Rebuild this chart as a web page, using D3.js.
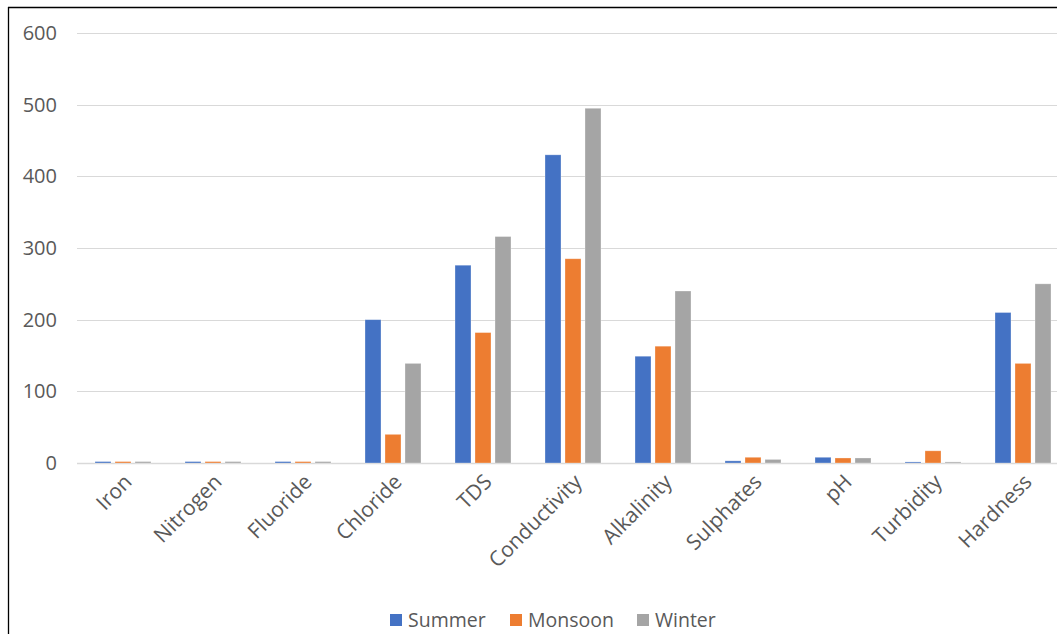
<!DOCTYPE html>
<html>
<head>
<meta charset="utf-8">
<script src="https://cdn.jsdelivr.net/npm/d3@7"></script>
<style>
  body { margin: 0; background: #fff; }
  svg { display: block; font-family: "Open Sans", "DejaVu Sans", sans-serif; }
</style>
</head>
<body>
<div id="chart"></div>
<script>
const categories = ["Iron", "Nitrogen", "Fluoride", "Chloride", "TDS", "Conductivity",
    "Alkalinity", "Sulphates", "pH", "Turbidity", "Hardness"];
const seriesNames = ["Summer", "Monsoon", "Winter"];
const summer  = [2, 2, 2, 200, 276, 430, 149, 3, 8, 1.5, 210];
const monsoon = [2, 2, 2, 40, 182, 285, 163, 8, 7, 17, 139];
const winter  = [2, 2, 2, 139, 316, 495, 240, 5, 7, 1.5, 250];
const yTicks = [0, 100, 200, 300, 400, 500, 600];
const colors = ["#4472C4", "#ED7D31", "#A5A5A5"];

const width = 1057, height = 634;
const values = [summer, monsoon, winter];

const svg = d3.select("#chart").append("svg")
    .attr("width", width)
    .attr("height", height);

// frame (only top and left edges are inside the shot)
svg.append("line").attr("x1", 8).attr("x2", width).attr("y1", 7.5).attr("y2", 7.5)
    .attr("stroke", "#000").attr("stroke-width", 1.3);
svg.append("line").attr("x1", 8.5).attr("x2", 8.5).attr("y1", 7).attr("y2", height)
    .attr("stroke", "#000").attr("stroke-width", 1.3);

const x = d3.scaleBand()
    .domain(categories)
    .range([78, 1068])
    .paddingInner(0)
    .paddingOuter(0);

const x1 = d3.scaleBand()
    .domain(seriesNames)
    .range([17, x.bandwidth() - 17])
    .paddingInner(0.2);

const y = d3.scaleLinear()
    .domain([0, 600])
    .range([463, 33]);

// gridlines
svg.append("g").selectAll("line")
    .data(yTicks)
    .enter().append("line")
    .attr("x1", 77)
    .attr("x2", width)
    .attr("y1", d => Math.round(y(d)) + 0.5)
    .attr("y2", d => Math.round(y(d)) + 0.5)
    .attr("stroke", "#D9D9D9")
    .attr("stroke-width", d => d === 0 ? 1.5 : 1);

// y labels
svg.append("g").selectAll("text")
    .data(yTicks)
    .enter().append("text")
    .attr("x", 57)
    .attr("y", d => y(d))
    .attr("dy", "0.35em")
    .attr("text-anchor", "end")
    .attr("font-size", 20)
    .attr("fill", "#595959")
    .text(d => d);

// bars
const groups = svg.append("g").selectAll("g")
    .data(categories)
    .enter().append("g")
    .attr("transform", d => `translate(${x(d)},0)`);

groups.selectAll("rect")
    .data((d, i) => seriesNames.map((s, j) => ({ s: s, v: values[j][i], c: colors[j] })))
    .enter().append("rect")
    .attr("x", d => x1(d.s))
    .attr("y", d => y(d.v))
    .attr("width", x1.bandwidth())
    .attr("height", d => y(0) - y(d.v))
    .attr("fill", d => d.c)
    .attr("stroke", "#fff")
    .attr("stroke-opacity", 0.4)
    .attr("stroke-width", 0.75);

// x labels
svg.append("g").selectAll("text")
    .data(categories)
    .enter().append("text")
    .attr("transform", d => `translate(${x(d) + x.bandwidth() / 2 + 5},${478}) rotate(-45)`)
    .attr("text-anchor", "end")
    .attr("dy", "0.35em")
    .attr("font-size", 21)
    .attr("fill", "#595959")
    .text(d => d);

// legend
const legendX = [390, 510, 637];
const legend = svg.append("g").selectAll("g")
    .data(seriesNames)
    .enter().append("g")
    .attr("transform", (d, i) => `translate(${legendX[i]},614)`);

legend.append("rect")
    .attr("width", 12)
    .attr("height", 12)
    .attr("fill", (d, i) => colors[i]);

legend.append("text")
    .attr("x", 18)
    .attr("y", 6)
    .attr("dy", "0.35em")
    .attr("font-size", 19.5)
    .attr("fill", "#595959")
    .text(d => d);
</script>
</body>
</html>
